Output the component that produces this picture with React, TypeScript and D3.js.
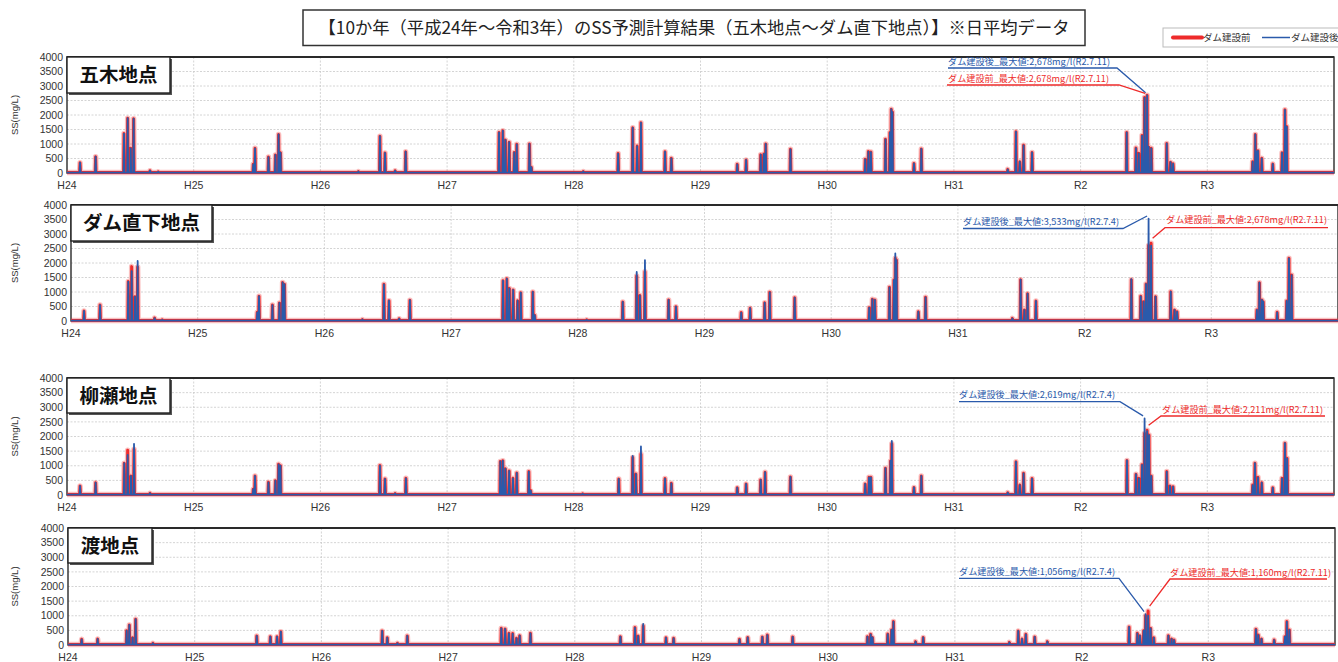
import React from 'react';
import * as d3 from 'd3';

// ---------- data ----------
const yearTicks = [2012, 2013, 2014, 2015, 2016, 2017, 2018, 2019, 2020, 2021];
const yearLabels = ['H24', 'H25', 'H26', 'H27', 'H28', 'H29', 'H30', 'H31', 'R2', 'R3'];
const yTicks = [0, 500, 1000, 1500, 2000, 2500, 3000, 3500, 4000];
const seriesNames = ['ダム建設前', 'ダム建設後'];
const stationNames = ['五木地点', 'ダム直下地点', '柳瀬地点', '渡地点'];
const baseLevel = 15;

// [decimal year, before (ダム建設前), after (ダム建設後)]
const itsukiPeaks: number[][] = [
  [2012.103, 355, 355], [2012.226, 560, 560], [2012.45, 1360, 1360], [2012.479, 1890, 1890],
  [2012.503, 850, 850], [2012.526, 1870, 1870], [2012.655, 80, 80], [2012.72, 40, 40],
  [2013.47, 300, 300], [2013.484, 850, 850], [2013.59, 550, 550], [2013.645, 620, 620],
  [2013.67, 1330, 1330], [2013.685, 700, 700], [2014.3, 50, 50], [2014.47, 1270, 1270],
  [2014.51, 690, 690], [2014.59, 80, 80], [2014.673, 735, 735],
  [2015.41, 1400, 1400], [2015.44, 1460, 1460], [2015.46, 1140, 1140], [2015.49, 1060, 1060],
  [2015.53, 710, 710], [2015.55, 990, 990], [2015.65, 1000, 1000], [2015.665, 200, 200],
  [2016.075, 50, 50], [2016.35, 670, 670], [2016.465, 1560, 1560], [2016.5, 930, 930],
  [2016.53, 1735, 1735], [2016.72, 735, 735], [2016.77, 505, 505],
  [2017.29, 300, 300], [2017.36, 450, 450], [2017.475, 630, 630], [2017.5, 655, 655],
  [2017.515, 1000, 1000], [2017.71, 815, 815],
  [2018.3, 470, 470], [2018.325, 740, 740], [2018.345, 720, 720], [2018.46, 1160, 1160],
  [2018.495, 1400, 1400], [2018.506, 2200, 2200], [2018.515, 2100, 2100],
  [2018.685, 330, 330], [2018.743, 830, 830],
  [2019.425, 125, 125], [2019.49, 1425, 1425], [2019.52, 390, 390], [2019.55, 955, 955],
  [2019.617, 710, 710],
  [2020.364, 1400, 1400], [2020.437, 860, 860], [2020.459, 680, 680], [2020.485, 1290, 1290],
  [2020.505, 2600, 2600], [2020.525, 2678, 2678], [2020.537, 900, 900], [2020.558, 850, 850],
  [2020.68, 1020, 1020], [2020.71, 370, 370], [2020.73, 320, 320],
  [2021.358, 390, 390], [2021.379, 1330, 1330], [2021.39, 735, 735], [2021.4, 770, 770],
  [2021.43, 505, 505], [2021.517, 310, 310], [2021.59, 700, 700], [2021.613, 2180, 2180],
  [2021.627, 1600, 1600],
];

const damPeaks: number[][] = [
  [2012.103, 345, 345], [2012.229, 550, 550], [2012.452, 1360, 1360], [2012.479, 1875, 1720],
  [2012.505, 840, 840], [2012.526, 1860, 2070], [2012.66, 100, 100], [2012.72, 40, 40],
  [2013.47, 300, 300], [2013.484, 855, 855], [2013.59, 550, 550], [2013.645, 620, 620],
  [2013.67, 1330, 1330], [2013.685, 1270, 1270], [2014.3, 50, 50], [2014.47, 1265, 1265],
  [2014.51, 700, 700], [2014.59, 80, 80], [2014.675, 715, 715],
  [2015.41, 1390, 1390], [2015.44, 1460, 1460], [2015.46, 1125, 1125], [2015.49, 1070, 1070],
  [2015.525, 700, 700], [2015.55, 975, 975], [2015.645, 1000, 1000], [2015.66, 200, 200],
  [2016.07, 40, 40], [2016.355, 655, 655], [2016.465, 1550, 1690], [2016.49, 880, 880],
  [2016.53, 1700, 2100], [2016.717, 725, 725], [2016.775, 495, 495],
  [2017.29, 290, 290], [2017.36, 440, 440], [2017.475, 630, 630], [2017.515, 990, 990],
  [2017.712, 805, 805],
  [2018.3, 460, 460], [2018.325, 750, 750], [2018.345, 725, 725], [2018.46, 1160, 1160],
  [2018.495, 1410, 1410], [2018.506, 2160, 2330], [2018.515, 2100, 2100],
  [2018.688, 320, 320], [2018.745, 815, 815],
  [2019.43, 90, 90], [2019.495, 1425, 1425], [2019.525, 380, 380], [2019.55, 940, 940],
  [2019.616, 690, 690],
  [2020.369, 1425, 1440], [2020.443, 850, 850], [2020.466, 665, 665], [2020.485, 1275, 1275],
  [2020.505, 2600, 3533], [2020.525, 2678, 2600], [2020.56, 840, 840],
  [2020.68, 1010, 1010], [2020.71, 380, 380], [2020.73, 320, 320],
  [2021.36, 380, 380], [2021.38, 1320, 1320], [2021.4, 725, 725], [2021.41, 665, 665],
  [2021.52, 300, 300], [2021.595, 690, 690], [2021.613, 2160, 2160], [2021.634, 1585, 1585],
];

const yanasePeaks: number[][] = [
  [2012.103, 310, 310], [2012.226, 420, 420], [2012.452, 1085, 1085], [2012.479, 1530, 1370],
  [2012.505, 650, 650], [2012.529, 1565, 1750], [2012.655, 60, 60],
  [2013.47, 200, 200], [2013.484, 650, 650], [2013.59, 435, 435], [2013.645, 490, 490],
  [2013.67, 1050, 1050], [2013.685, 1000, 1000], [2014.47, 1005, 1005], [2014.51, 550, 550],
  [2014.59, 50, 50], [2014.675, 570, 570],
  [2015.42, 1145, 1145], [2015.44, 1175, 1175], [2015.46, 900, 900], [2015.49, 820, 820],
  [2015.52, 570, 570], [2015.55, 755, 755], [2015.645, 800, 800], [2015.66, 150, 150],
  [2016.07, 40, 40], [2016.355, 550, 550], [2016.465, 1280, 1340], [2016.49, 720, 720],
  [2016.53, 1395, 1660], [2016.72, 560, 560], [2016.77, 400, 400],
  [2017.29, 250, 250], [2017.36, 380, 380], [2017.475, 515, 515], [2017.51, 780, 780],
  [2017.71, 615, 615],
  [2018.3, 380, 380], [2018.33, 605, 605], [2018.345, 605, 605], [2018.46, 915, 915],
  [2018.5, 1165, 1165], [2018.51, 1750, 1850],
  [2018.685, 260, 260], [2018.743, 650, 650],
  [2019.425, 80, 80], [2019.49, 1140, 1140], [2019.52, 340, 340], [2019.55, 740, 740],
  [2019.617, 560, 560],
  [2020.366, 1180, 1180], [2020.437, 710, 710], [2020.46, 570, 570], [2020.485, 1030, 1030],
  [2020.505, 2100, 2619], [2020.525, 2211, 2180], [2020.54, 2050, 2050], [2020.558, 650, 650],
  [2020.68, 800, 800], [2020.705, 310, 310], [2020.73, 285, 285],
  [2021.358, 340, 340], [2021.376, 1085, 1085], [2021.4, 605, 605], [2021.43, 420, 420],
  [2021.517, 250, 250], [2021.59, 570, 570], [2021.613, 1770, 1770], [2021.63, 1255, 1255],
];

const watariPeaks: number[][] = [
  [2012.108, 195, 195], [2012.234, 205, 205], [2012.463, 490, 490], [2012.484, 685, 685],
  [2012.51, 250, 250], [2012.534, 880, 880], [2012.67, 60, 60],
  [2013.49, 310, 310], [2013.597, 285, 285], [2013.65, 285, 285], [2013.68, 455, 455],
  [2014.48, 480, 480], [2014.52, 250, 250], [2014.6, 60, 60], [2014.678, 310, 310],
  [2015.42, 570, 570], [2015.45, 550, 550], [2015.48, 400, 400], [2015.51, 390, 390],
  [2015.54, 230, 230], [2015.565, 320, 320], [2015.65, 400, 400],
  [2016.36, 285, 285], [2016.475, 595, 595], [2016.5, 310, 310], [2016.54, 650, 720],
  [2016.72, 250, 250], [2016.78, 230, 230],
  [2017.3, 195, 195], [2017.365, 260, 260], [2017.48, 275, 275], [2017.52, 340, 340],
  [2017.72, 275, 275],
  [2018.31, 285, 285], [2018.335, 365, 365], [2018.35, 260, 260], [2018.47, 375, 375],
  [2018.5, 515, 515], [2018.515, 800, 800],
  [2018.69, 115, 115], [2018.75, 260, 260],
  [2019.43, 90, 90], [2019.5, 480, 480], [2019.53, 205, 205], [2019.56, 365, 365],
  [2019.63, 275, 275], [2019.73, 115, 115],
  [2020.375, 617, 617], [2020.44, 400, 400], [2020.46, 320, 320], [2020.49, 490, 490],
  [2020.505, 1000, 1056], [2020.525, 1160, 1000], [2020.545, 570, 570], [2020.57, 250, 250],
  [2020.685, 320, 320], [2020.71, 205, 205], [2020.73, 170, 170],
  [2021.376, 535, 535], [2021.395, 340, 340], [2021.42, 205, 205], [2021.52, 170, 170],
  [2021.605, 285, 285], [2021.62, 800, 800], [2021.64, 515, 515],
];

const stationPeaks = [itsukiPeaks, damPeaks, yanasePeaks, watariPeaks];

// maximum annotations: [decimal year, value, date label]
const maxBefore: [number, number, string][] = [
  [2020.525, 2678, 'R2.7.11'], [2020.525, 2678, 'R2.7.11'], [2020.525, 2211, 'R2.7.11'], [2020.525, 1160, 'R2.7.11'],
];
const maxAfter: [number, number, string][] = [
  [2020.525, 2678, 'R2.7.11'], [2020.505, 3533, 'R2.7.4'], [2020.505, 2619, 'R2.7.4'], [2020.505, 1056, 'R2.7.4'],
];

// ---------- layout ----------
const W = 1338, H = 662;
const PLOT_W = 1267;
const RED = '#ee2b2b';
const BLUE = '#2a5aab';
const JP = '"Noto Sans CJK JP", "Noto Sans", sans-serif';
const LAT = '"Liberation Sans", Arial, sans-serif';

const panels = [
  { left: 67, top: 57, bottom: 173, boxW: 103, boxH: 36,
    a: { bx: 948, by: 65, bx2: 1117, bly: 68, rx: 948, ry: 82, rx1: 947, rx2: 1119, rly: 85, rLeft: true } },
  { left: 71, top: 205, bottom: 321, boxW: 141, boxH: 36,
    a: { bx: 963, by: 225, bx2: 1123, bly: 228.5, rx: 1166, ry: 222.5, rx1: 1165, rx2: 1328, rly: 227.7, rLeft: false } },
  { left: 67, top: 378, bottom: 495, boxW: 103, boxH: 35,
    a: { bx: 959, by: 398, bx2: 1120, bly: 401.7, rx: 1162, ry: 413, rx1: 1161, rx2: 1325, rly: 416, rLeft: false } },
  { left: 68, top: 528, bottom: 645, boxW: 84, boxH: 35,
    a: { bx: 959, by: 575, bx2: 1119, bly: 578.3, rx: 1170, ry: 575.5, rx1: 1170, rx2: 1327, rly: 579, rLeft: false } },
];

const W_DAYS = 1.3 / 365;

function buildPoints(peaks: number[][], idx: number): [number, number][] {
  const pts: [number, number][] = [[2012, baseLevel]];
  const sorted = [...peaks].sort((a, b) => a[0] - b[0]);
  sorted.forEach((p) => {
    pts.push([p[0] - W_DAYS, baseLevel]);
    pts.push([p[0], p[idx]]);
    pts.push([p[0] + W_DAYS, baseLevel]);
  });
  pts.push([2022, baseLevel]);
  return pts;
}

const fmt = d3.format(',');

function Panel({ i }: { i: number }) {
  const p = panels[i];
  const x = d3.scaleLinear().domain([2012, 2022]).range([p.left, p.left + PLOT_W]);
  const y = d3.scaleLinear().domain([0, 4000]).range([p.bottom, p.top]);
  const line = d3.line<[number, number]>().x((d) => x(d[0])).y((d) => y(d[1]));
  const redPath = line(buildPoints(stationPeaks[i], 1)) || '';
  const bluePath = line(buildPoints(stationPeaks[i], 2)) || '';
  const a = p.a;
  const mb = maxBefore[i];
  const ma = maxAfter[i];
  const blueText = `ダム建設後_最大値:${fmt(ma[1])}mg/l(${ma[2]})`;
  const redText = `ダム建設前_最大値:${fmt(mb[1])}mg/l(${mb[2]})`;
  const bEnd = [x(ma[0]) - 1.5, y(ma[1]) - 2.5];
  const rEnd = [x(mb[0]) + (a.rLeft ? -2 : 1.5), y(mb[1]) - (a.rLeft ? 2 : 5)];
  const midY = (p.top + p.bottom) / 2;
  const blueLen = ma[2].length > 6 ? 162 : 156;
  return (
    <g>
      {/* grid */}
      {yTicks.slice(1, -1).map((t) => (
        <line key={'h' + t} x1={p.left} x2={p.left + PLOT_W} y1={y(t)} y2={y(t)}
          stroke="#c9c9c9" strokeWidth={0.8} strokeDasharray="2,1.5" />
      ))}
      {yearTicks.slice(1).map((t) => (
        <line key={'v' + t} x1={x(t)} x2={x(t)} y1={p.top} y2={p.bottom}
          stroke="#c9c9c9" strokeWidth={0.8} strokeDasharray="2,1.5" />
      ))}
      {/* frame */}
      <rect x={p.left} y={p.top} width={PLOT_W} height={p.bottom - p.top} fill="none" stroke="#2a2a2a" strokeWidth={1.4} />
      <line x1={p.left} x2={p.left + PLOT_W} y1={p.top} y2={p.top} stroke="#2a2a2a" strokeWidth={2} />
      {/* y ticks */}
      {yTicks.map((t) => (
        <text key={'yt' + t} x={p.left - 4} y={y(t)} dy="0.35em" textAnchor="end"
          fontFamily={LAT} fontSize={10.5} fill="#333">{t}</text>
      ))}
      {/* x labels */}
      {yearTicks.map((t, k) => (
        <text key={'xt' + t} x={x(t)} y={p.bottom + 16} textAnchor="middle"
          fontFamily={LAT} fontSize={10.5} fill="#333">{yearLabels[k]}</text>
      ))}
      <text transform={`translate(18,${midY}) rotate(-90)`} textAnchor="middle"
        fontFamily={LAT} fontSize={9.5} fill="#333">SS(mg/L)</text>
      {/* data */}
      <path d={redPath} fill="none" stroke={RED} strokeOpacity={0.3} strokeWidth={5.5} strokeLinejoin="round" />
      <path d={redPath} fill="none" stroke={RED} strokeWidth={3} strokeLinejoin="round" />
      <path d={bluePath} fill="none" stroke={BLUE} strokeWidth={1.8} strokeLinejoin="round" />
      {/* station label box */}
      <rect x={p.left + 2} y={p.top + 2} width={p.boxW} height={p.boxH} fill="#555" />
      <rect x={p.left} y={p.top} width={p.boxW} height={p.boxH} fill="#fff" stroke="#222" strokeWidth={1.4} />
      <text x={p.left + p.boxW / 2} y={p.top + p.boxH / 2 + 7} textAnchor="middle"
        fontFamily={JP} fontWeight={700} fontSize={19.5} fill="#111">{stationNames[i]}</text>
      {/* annotations */}
      <text x={a.bx} y={a.by} fontFamily={JP} fontSize={8.8} fill={BLUE}
        textLength={blueLen} lengthAdjust="spacingAndGlyphs">{blueText}</text>
      <polyline points={`${a.bx},${a.bly} ${a.bx2},${a.bly} ${bEnd[0]},${bEnd[1]}`} fill="none" stroke={BLUE} strokeWidth={1.3} />
      <text x={a.rx} y={a.ry} fontFamily={JP} fontSize={8.8} fill={RED}
        textLength={161} lengthAdjust="spacingAndGlyphs">{redText}</text>
      {a.rLeft ? (
        <polyline points={`${a.rx1},${a.rly} ${a.rx2},${a.rly} ${rEnd[0]},${rEnd[1]}`} fill="none" stroke={RED} strokeWidth={1.3} />
      ) : (
        <polyline points={`${a.rx2},${a.rly} ${a.rx1},${a.rly} ${rEnd[0]},${rEnd[1]}`} fill="none" stroke={RED} strokeWidth={1.3} />
      )}
    </g>
  );
}

export default function App() {
  return (
    <svg width={W} height={H} viewBox={`0 0 ${W} ${H}`}
      style={{ position: 'absolute', left: 0, top: 0, background: '#fff' }}>
      <rect x={0} y={0} width={W} height={H} fill="#fff" />
      {/* title */}
      <rect x={303} y={10} width={782} height={35.5} fill="#fff" stroke="#333" strokeWidth={1.5} />
      <text x={694} y={34} textAnchor="middle" fontFamily={JP} fontSize={17.3} fill="#222">
        【10か年（平成24年～令和3年）のSS予測計算結果（五木地点～ダム直下地点）】※日平均データ
      </text>
      {/* legend */}
      <rect x={1163} y={28} width={190} height={19} fill="#fff" stroke="#bbb" strokeWidth={1} />
      <line x1={1173} x2={1202} y1={37.5} y2={37.5} stroke={RED} strokeWidth={4} strokeLinecap="round" />
      <text x={1203} y={41} fontFamily={JP} fontSize={9.5} fill="#333">{seriesNames[0]}</text>
      <line x1={1262} x2={1290} y1={37.5} y2={37.5} stroke={BLUE} strokeWidth={1.5} />
      <text x={1291} y={41} fontFamily={JP} fontSize={9.5} fill="#333">{seriesNames[1]}</text>
      {panels.map((_, i) => <Panel key={i} i={i} />)}
    </svg>
  );
}
